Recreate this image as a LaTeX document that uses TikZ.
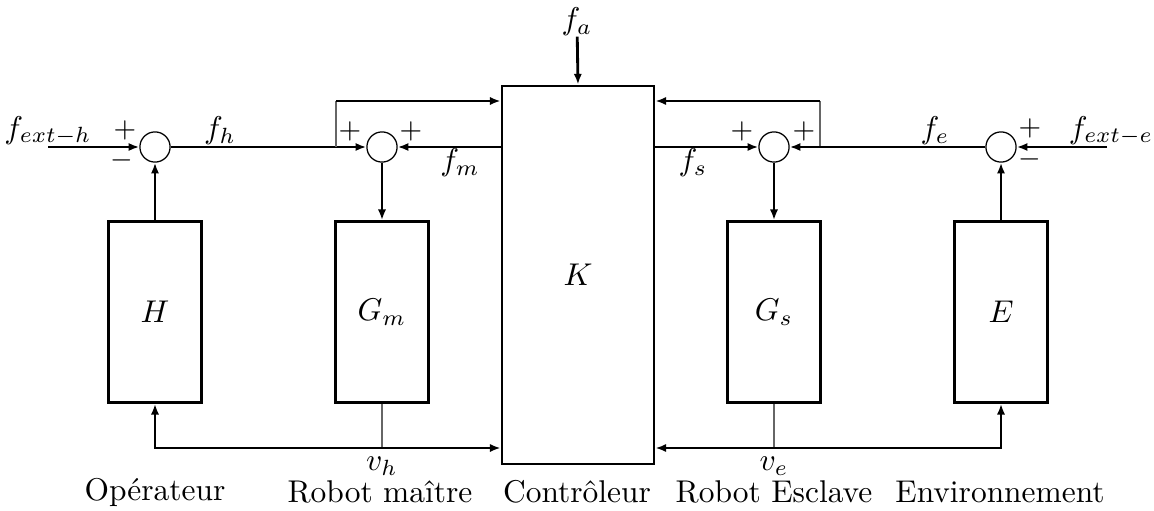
\documentclass[tikz,border=0pt]{standalone}
\usepackage{amsmath,amssymb}
\usepackage{xcolor,tikz}
\usetikzlibrary{arrows.meta,positioning,calc}

\begin{document}
\begin{tikzpicture}[x=0.318pt,y=-0.318pt,
  blk/.style={draw,line width=0.9pt,minimum width=29.5pt,minimum height=57.5pt,inner sep=0pt},
  sum/.style={draw,circle,minimum size=9.6pt,inner sep=0pt},
  sig/.style={line width=0.9pt,-{Latex[length=3.4pt,width=2.6pt]}},
  tap/.style={thin,black!60},
  lab/.style={inner sep=0pt},
  sgn/.style={inner sep=0pt,font=\small}]
\useasboundingbox (0,0) rectangle (1154,510);
% blocs
\node[blk] (H) at (155,312){$H$};
\node[blk] (Gm) at (382,312){$G_m$};
\node[draw,line width=0.9pt,minimum width=48.3pt,minimum height=120.2pt] (K) at (578,275){$K$};
\node[blk] (Gs) at (774,312){$G_s$};
\node[blk] (E) at (1001,312){$E$};
% sommateurs
\node[sum] (sH) at (155,147){};\node[sum] (sM) at (382,147){};
\node[sum] (sS) at (774,147){};\node[sum] (sE) at (1001,147){};
% entrees / branchements
\coordinate (inH) at (48,147);\coordinate (inE) at (1107,147);
\coordinate (brM) at (336,147);\coordinate (topM) at (336,101);
\coordinate (brS) at (820,147);\coordinate (topS) at (820,101);
\coordinate (vh) at (382,448);\coordinate (ve) at (774,448);
\node[lab] (fa) at (577,22){$f_a$};
% operateur
\draw[sig] (inH) -- (sH.west);
\draw[sig] (H.north) -- (sH.south);
\draw[sig] (sH.east) -- (sM.west);
\draw[tap] (brM) -- (topM);
\draw[sig] (topM) -- (K.west|-topM);
\draw[sig] (K.west|-sM) -- (sM.east);
\draw[sig] (sM.south) -- (Gm.north);
\draw[tap] (Gm.south) -- (vh);
\draw[sig] (vh) -| (H.south);
\draw[sig] (vh) -- (K.west|-vh);
% controleur
\draw[sig] (fa) -- (K.north);
% esclave
\draw[sig] (K.east|-sS) -- (sS.west);
\draw[tap] (brS) -- (topS);
\draw[sig] (topS) -- (K.east|-topS);
\draw[sig] (sE.west) -- (sS.east);
\draw[sig] (sS.south) -- (Gs.north);
\draw[sig] (inE) -- (sE.east);
\draw[sig] (E.north) -- (sE.south);
\draw[tap] (Gs.south) -- (ve);
\draw[sig] (ve) -| (E.south);
\draw[sig] (ve) -- (K.east|-ve);
% signes
\node[sgn] at (125,130){$+$};\node[sgn] at (122,160){$-$};
\node[sgn] at (350,131){$+$};\node[sgn] at (411,131){$+$};
\node[sgn] at (742,131){$+$};\node[sgn] at (804,131){$+$};
\node[sgn] at (1030,128){$+$};\node[sgn] at (1030,159){$-$};
% signaux
\node at (48,131){$f_{ext-h}$};\node at (220,131){$f_h$};
\node at (460,163){$f_m$};\node at (693,163){$f_s$};
\node at (935,131){$f_e$};\node at (1111,131){$f_{ext-e}$};
\node at (382,466){$v_h$};\node at (774,466){$v_e$};
% legendes
\node at (155,492){Opérateur};\node at (380,492){Robot maître};
\node at (577,492){Contrôleur};\node at (774,492){Robot Esclave};
\node at (1000,492){Environnement};
\end{tikzpicture}
\end{document}
